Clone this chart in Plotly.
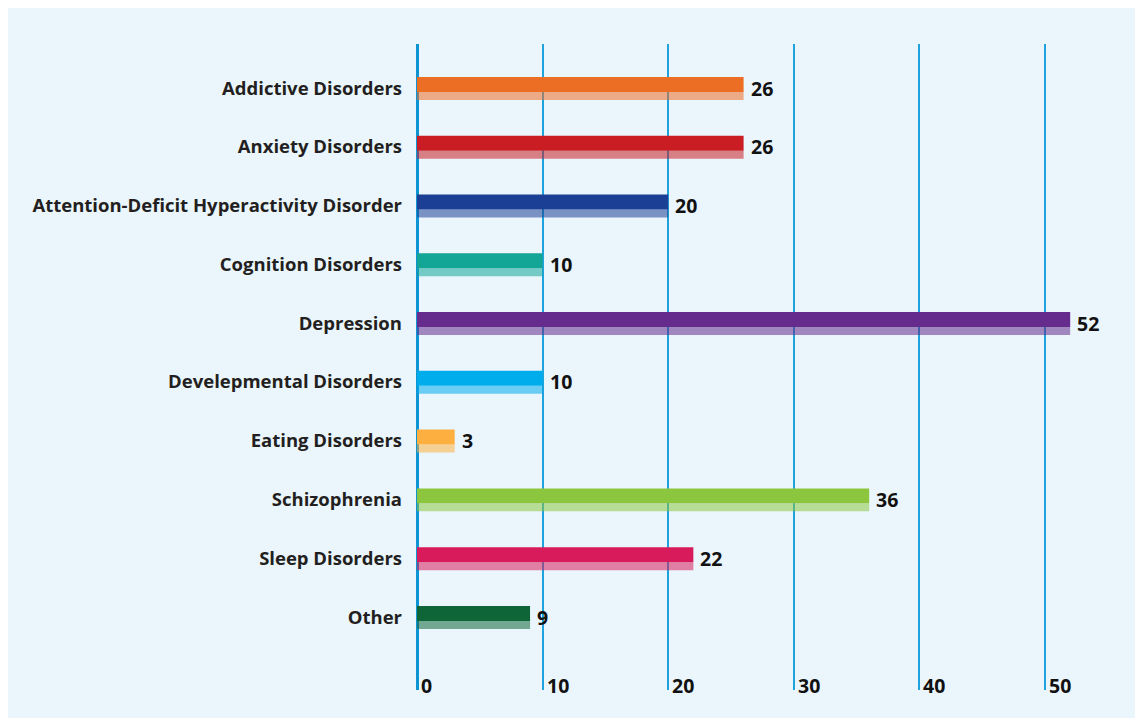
import plotly.graph_objects as go

categories = ["Addictive Disorders", "Anxiety Disorders", "Attention-Deficit Hyperactivity Disorder",
              "Cognition Disorders", "Depression", "Develepmental Disorders", "Eating Disorders",
              "Schizophrenia", "Sleep Disorders", "Other"]
values = [26, 26, 20, 10, 52, 10, 3, 36, 22, 9]
colors = ["#ec6d24", "#c91c23", "#1b3f94", "#13a596", "#652b8d", "#00adec", "#fdb040",
          "#8cc63f", "#d81b5b", "#0e6638"]
x_ticks = [0, 10, 20, 30, 40, 50]

FONT = "Open Sans"
fig = go.Figure()

# dark (top) part of each bar
fig.add_trace(go.Bar(
    y=categories, x=values, orientation="h",
    marker=dict(color=colors, line=dict(width=0)),
    width=0.255, offset=-0.19, hoverinfo="skip", showlegend=False,
))
# lighter (bottom) part of each bar
fig.add_trace(go.Bar(
    y=categories, x=values, orientation="h",
    marker=dict(color=colors, opacity=0.55, line=dict(width=0)),
    width=0.136, offset=0.065, hoverinfo="skip", showlegend=False,
))

annotations = []
for c, v in zip(categories, values):
    annotations.append(dict(x=v, y=c, xref="x", yref="y", text=f"<b>{v}</b>",
                            showarrow=False, xanchor="left", yanchor="middle", xshift=5,
                            font=dict(family=FONT, size=19.5, color="#111111")))
for t in x_ticks:
    annotations.append(dict(x=t, y=0, xref="x", yref="paper", text=f"<b>{t}</b>",
                            showarrow=False, xanchor="left", yanchor="middle", xshift=2, yshift=5,
                            font=dict(family=FONT, size=19.5, color="#111111")))

# figure is placed 8px in from the page corner, so coordinates are page - 8
W, H = 1135, 718
L, R, T, B = 409, 10, 36, 36
pw, ph = W - L - R, H - T - B

panel = dict(type="rect", xref="paper", yref="paper", layer="below",
             x0=(0 - L) / pw, x1=(1129 - L) / pw,
             y0=(H - B - 710) / ph, y1=(H - B - 0) / ph,
             fillcolor="#ebf6fc", line=dict(width=0))

fig.update_layout(
    width=W, height=H,
    margin=dict(l=L, r=R, t=T, b=B),
    paper_bgcolor="white", plot_bgcolor="rgba(0,0,0,0)",
    barmode="overlay",
    shapes=[panel],
    annotations=annotations,
    xaxis=dict(range=[0, 57], tickvals=x_ticks, showticklabels=False,
               showgrid=True, gridcolor="#1ea3dc", gridwidth=1.5,
               zeroline=True, zerolinecolor="#0e93d3", zerolinewidth=3,
               showline=False, fixedrange=True),
    yaxis=dict(type="category", categoryorder="array", categoryarray=categories,
               range=[10.24, -0.75], showgrid=False, zeroline=False, showline=False,
               ticks="", ticklabelstandoff=14,
               tickfont=dict(family=FONT, size=18.5, color="#231f20", weight="bold")),
    font=dict(family=FONT),
)

fig.write_html("out.html")
